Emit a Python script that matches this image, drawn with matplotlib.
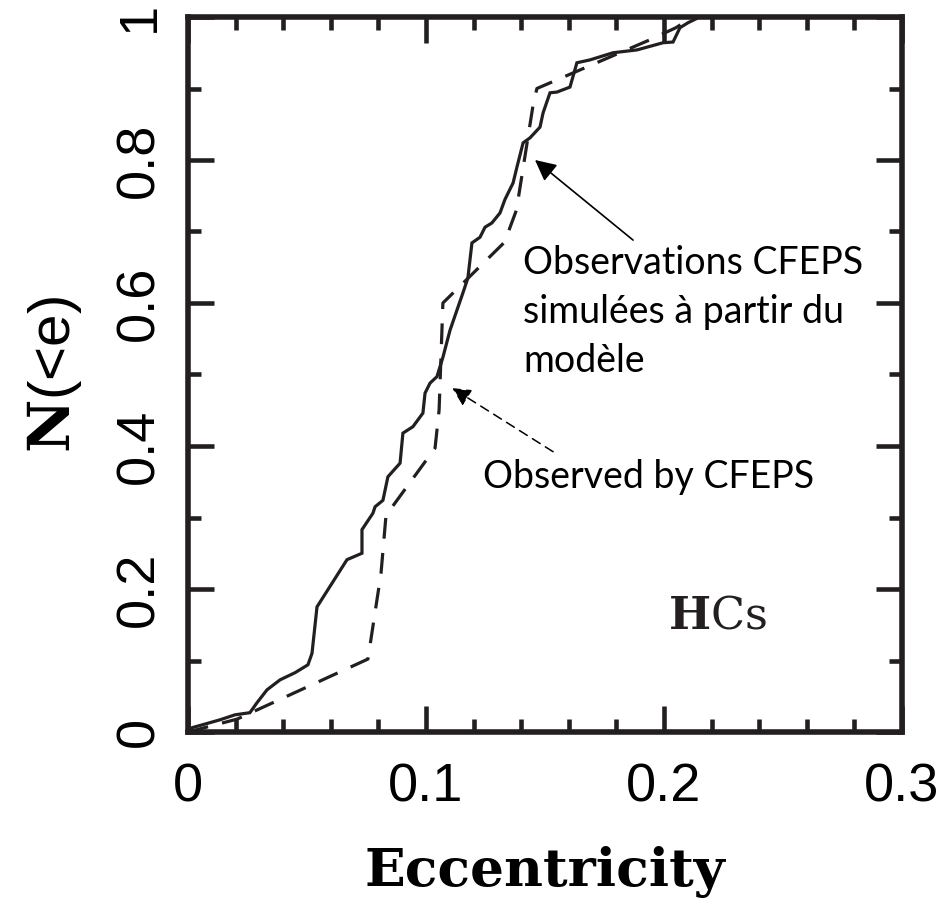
import matplotlib
matplotlib.use("Agg")
import matplotlib.pyplot as plt
from matplotlib.ticker import MultipleLocator

# ---- data ----
model_e = [0.0, 0.0017, 0.0134, 0.0197, 0.026, 0.029, 0.0332, 0.0387, 0.045, 0.0504,
           0.0521, 0.0542, 0.0605, 0.0668, 0.0731, 0.0731, 0.0777, 0.0786, 0.0819, 0.0840,
           0.0891, 0.0903, 0.0945, 0.0987, 0.0996, 0.1017, 0.1046, 0.1071, 0.1101, 0.1130,
           0.1155, 0.1176, 0.1193, 0.1227, 0.1248, 0.1277, 0.1311, 0.1332, 0.1366, 0.1382,
           0.1408, 0.1437, 0.1479, 0.1492, 0.1521, 0.1550, 0.1605, 0.1634, 0.1689, 0.1786,
           0.1887, 0.1996, 0.2038, 0.2067, 0.2101, 0.215]
model_N = [0.0, 0.006, 0.017, 0.024, 0.027, 0.041, 0.059, 0.073, 0.083, 0.094,
           0.110, 0.175, 0.208, 0.241, 0.250, 0.283, 0.306, 0.315, 0.324, 0.357,
           0.376, 0.418, 0.427, 0.446, 0.474, 0.488, 0.497, 0.524, 0.562, 0.590,
           0.614, 0.635, 0.684, 0.692, 0.706, 0.712, 0.726, 0.745, 0.768, 0.790,
           0.824, 0.831, 0.846, 0.866, 0.894, 0.895, 0.902, 0.936, 0.940, 0.950,
           0.954, 0.964, 0.965, 0.985, 0.992, 1.0]

obs_e = [0.0, 0.0206, 0.0756, 0.0811, 0.0832, 0.1038, 0.1055, 0.1071, 0.133,
         0.138, 0.145, 0.1466, 0.194, 0.205, 0.212, 0.22]
obs_N = [0.0, 0.018, 0.102, 0.222, 0.303, 0.397, 0.45, 0.60, 0.685,
         0.73, 0.877, 0.90, 0.968, 0.985, 1.0, 1.0]

xticks = [0, 0.1, 0.2, 0.3]
xticklabels = ["0", "0.1", "0.2", "0.3"]
yticks = [0, 0.2, 0.4, 0.6, 0.8, 1.0]
yticklabels = ["0", "0.2", "0.4", "0.6", "0.8", "1"]

label_model = "Observations CFEPS\nsimulées à partir du\nmodèle"
label_obs = "Observed by CFEPS"

# ---- figure ----
plt.rcParams['mathtext.fontset'] = 'dejavuserif'
ink = "#231f20"
fig = plt.figure(figsize=(9.52, 8.98), dpi=100)
ax = fig.add_axes([188/952, 1-732/898, 714/952, 715/898])

ax.plot(model_e, model_N, color=ink, lw=2.3, solid_joinstyle='miter')
ax.plot(obs_e, obs_N, color=ink, lw=2.3, dashes=(6.5, 4.5))

ax.set_xlim(0, 0.3)
ax.set_ylim(0, 1)
ax.set_xticks(xticks)
ax.set_xticklabels(xticklabels)
ax.set_yticks(yticks)
ax.set_yticklabels(yticklabels, rotation=90, va='center')
ax.xaxis.set_minor_locator(MultipleLocator(0.02))
ax.yaxis.set_minor_locator(MultipleLocator(0.1))
ax.tick_params(which='both', direction='in', top=True, right=True, color=ink,
               labelsize=39)
ax.tick_params(axis='x', which='both', pad=22)
ax.tick_params(axis='y', which='both', pad=17)
ax.tick_params(which='major', length=19, width=3.3)
ax.tick_params(which='minor', length=9.5, width=3.3)
for lab in ax.get_xticklabels() + ax.get_yticklabels():
    lab.set_family('Liberation Sans')
for sp in ax.spines.values():
    sp.set_linewidth(4)
    sp.set_color(ink)

ax.set_xlabel("Eccentricity", family='DejaVu Serif', fontweight='bold',
              fontsize=38.5, labelpad=24)
ax.set_ylabel(r"$\mathbf{N}$(<e)", family='Liberation Sans', fontsize=42,
              labelpad=22)

ax.text(0.2017, 0.145, r"$\mathbf{H}$Cs", family='DejaVu Serif', fontsize=32,
        ha='left', va='baseline', color=ink)

# annotations
ax.annotate("", xy=(0.1458, 0.800), xytext=(0.187, 0.688),
            arrowprops=dict(arrowstyle='-|>', color='black', lw=1.2,
                            mutation_scale=32, shrinkA=0, shrinkB=0))
ax.annotate("", xy=(0.111, 0.481), xytext=(0.1534, 0.392),
            arrowprops=dict(arrowstyle='-|>', color='black', lw=1.1,
                            linestyle=(0, (6, 4)), mutation_scale=28,
                            shrinkA=0, shrinkB=0))
# multi-line text: 'baseline' aligns the last line
ax.text(0.1408, 0.5035, label_model, family='Lato', fontsize=27,
        ha='left', va='baseline', linespacing=1.45, color='black')
ax.text(0.124, 0.341, label_obs, family='Lato', fontsize=27,
        ha='left', va='baseline', color='black')

fig.savefig("out.png", dpi=100)
